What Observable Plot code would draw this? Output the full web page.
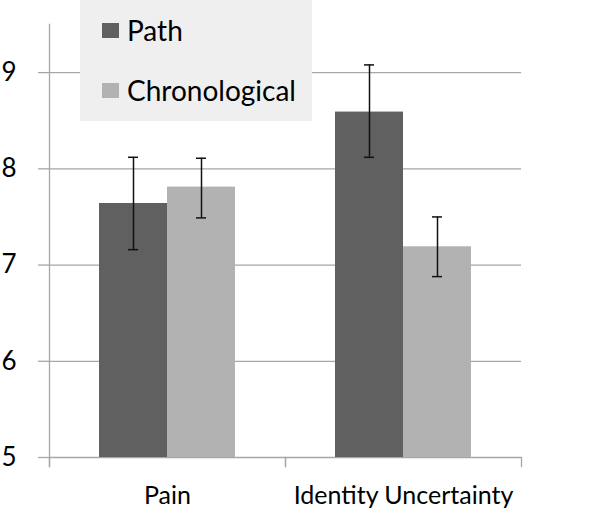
<!DOCTYPE html>
<html>
<head>
<meta charset="utf-8">
<script src="https://cdn.jsdelivr.net/npm/d3@7"></script>
<script src="https://cdn.jsdelivr.net/npm/@observablehq/plot@0.6"></script>
<style>
  body { margin: 0; background: #fff; }
  #wrap { position: relative; width: 600px; height: 513px; font-family: Lato, sans-serif; }
  #legend { position: absolute; left: 80px; top: 0px; width: 232px; height: 121px; background: #efefef; }
  .item { position: absolute; left: 22px; display: flex; align-items: center; font-size: 28px; color: #000; }
  .sw { width: 17px; height: 15px; margin-right: 8px; }
</style>
</head>
<body>
<div id="wrap">
  <div id="chart"></div>
  <div id="legend"></div>
</div>
<script>
const categories = ["Pain", "Identity Uncertainty"];
const series = ["Path", "Chronological"];
const pathMeans = [7.64, 8.59];
const chronoMeans = [7.81, 7.19];
const pathLow = [7.16, 8.12];
const pathHigh = [8.12, 9.08];
const chronoLow = [7.49, 6.88];
const chronoHigh = [8.11, 7.50];
const yTicks = [5, 6, 7, 8, 9];
const yDomain = [5, 9.5];
const colors = ["#606060", "#b2b2b2"];

const data = [];
categories.forEach((c, i) => {
  data.push({category: c, series: "Path", mean: pathMeans[i], low: pathLow[i], high: pathHigh[i]});
  data.push({category: c, series: "Chronological", mean: chronoMeans[i], low: chronoLow[i], high: chronoHigh[i]});
});

const gray = "#a6a6a6";
const chart = Plot.plot({
  width: 600,
  height: 513,
  marginLeft: 49,
  marginRight: 79,
  marginTop: 24,
  marginBottom: 56,
  style: {fontFamily: "Lato, sans-serif", fontSize: "26px", color: "#000", background: "#fff"},
  fx: {domain: categories, paddingInner: 0, paddingOuter: 0, label: null, axis: null},
  x: {domain: series, paddingInner: 0, paddingOuter: 0.735, axis: null},
  y: {domain: yDomain, axis: null},
  color: {domain: series, range: colors},
  marks: [
    Plot.ruleY(yTicks, {stroke: gray, strokeWidth: 1.3}),
    Plot.barY(data, {fx: "category", x: "series", y1: yDomain[0], y2: "mean", fill: "series"}),
    Plot.ruleX(data, {fx: "category", x: "series", y1: "low", y2: "high", stroke: "#111", strokeWidth: 1.5}),
    Plot.tickY(data, {fx: "category", x: "series", y: "low", stroke: "#111", strokeWidth: 1.5, insetLeft: 29, insetRight: 29}),
    Plot.tickY(data, {fx: "category", x: "series", y: "high", stroke: "#111", strokeWidth: 1.5, insetLeft: 29, insetRight: 29}),
    Plot.axisY({ticks: yTicks, tickSize: 11, tickPadding: 22, stroke: gray, fill: "#000", strokeWidth: 1.3, label: null, tickFormat: d => String(d)}),
    Plot.frame({anchor: "left", facetAnchor: "left", stroke: gray, strokeWidth: 1.3, insetBottom: -9}),
    Plot.frame({anchor: "left", stroke: gray, strokeWidth: 1.3, insetTop: 433, insetBottom: -9}),
    Plot.frame({anchor: "right", stroke: gray, strokeWidth: 1.3, insetTop: 433, insetBottom: -9}),
    Plot.axisFx({anchor: "bottom", tickSize: 0, tickPadding: 29, label: null, fill: "#000", fontSize: 25})
  ]
});
document.getElementById("chart").appendChild(chart);

const legend = document.getElementById("legend");
const tops = [13, 73];
series.forEach((s, i) => {
  const item = document.createElement("div");
  item.className = "item";
  item.style.top = tops[i] + "px";
  const sw = document.createElement("span");
  sw.className = "sw";
  sw.style.background = colors[i];
  const t = document.createElement("span");
  t.textContent = s;
  item.appendChild(sw);
  item.appendChild(t);
  legend.appendChild(item);
});
</script>
</body>
</html>
